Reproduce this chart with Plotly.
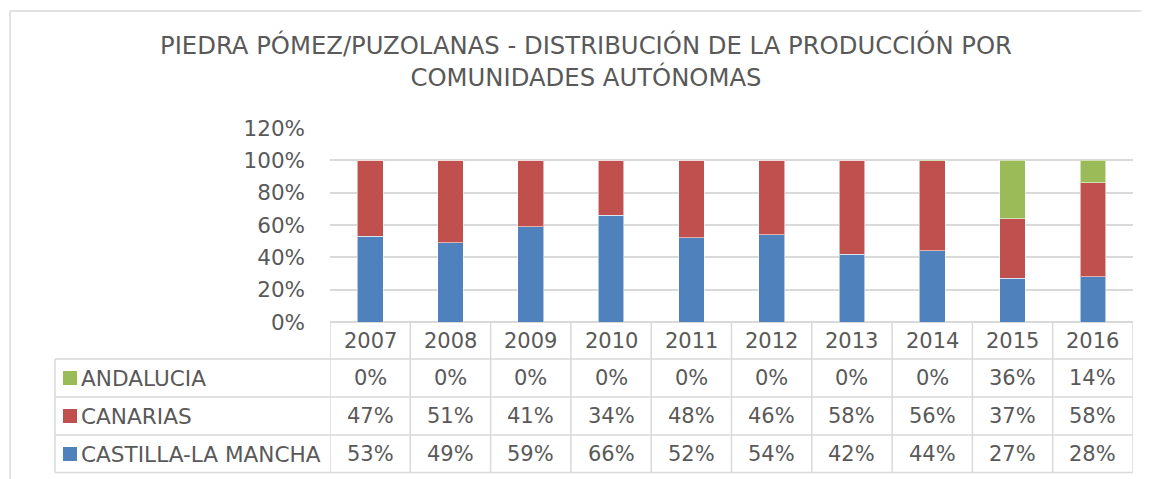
import plotly.graph_objects as go

years = ["2007", "2008", "2009", "2010", "2011", "2012", "2013", "2014", "2015", "2016"]
andalucia = [0.0, 0.0, 0.0, 0.0, 0.0, 0.0, 0.0, 0.003, 0.36, 0.14]
canarias = [0.47, 0.51, 0.41, 0.34, 0.48, 0.46, 0.58, 0.557, 0.37, 0.58]
castilla = [0.53, 0.49, 0.59, 0.66, 0.52, 0.54, 0.42, 0.44, 0.27, 0.28]
series_names = ["ANDALUCIA", "CANARIAS", "CASTILLA-LA MANCHA"]
colors = {"ANDALUCIA": "#9BBB59", "CANARIAS": "#C0504D", "CASTILLA-LA MANCHA": "#4F81BD"}
y_ticks = [0, 0.2, 0.4, 0.6, 0.8, 1.0, 1.2]
title_text = "PIEDRA PÓMEZ/PUZOLANAS - DISTRIBUCIÓN DE LA PRODUCCIÓN POR<br>COMUNIDADES AUTÓNOMAS"

OFF = 8  # page body margin
W, H = 1149 - OFF, 479 - OFF
ML, MR, MT, MB = 322, 16, 120, 157
PW = W - ML - MR
PH = H - MT - MB
FONT = "DejaVu Sans"
TXT = "#595959"
GRID = "#D9D9D9"


def px_x(px):
    return (px - OFF - ML) / PW


def px_y(py):
    return (H - MB - (py - OFF)) / PH


values = {"CASTILLA-LA MANCHA": castilla, "CANARIAS": canarias, "ANDALUCIA": andalucia}

fig = go.Figure()
for name in ["CASTILLA-LA MANCHA", "CANARIAS", "ANDALUCIA"]:
    fig.add_trace(go.Bar(
        x=years, y=values[name], name=name,
        marker=dict(color=colors[name], line=dict(color="rgba(255,255,255,0.55)", width=1)),
        showlegend=False,
    ))

shapes = []
annotations = []

# chart outer border (only top and left edges are visible in the frame)
shapes.append(dict(type="line", xref="paper", yref="paper",
                   x0=px_x(10), x1=px_x(1300), y0=px_y(11), y1=px_y(11),
                   line=dict(color=GRID, width=1.5), layer="below"))
shapes.append(dict(type="line", xref="paper", yref="paper",
                   x0=px_x(10), x1=px_x(10), y0=px_y(11), y1=px_y(600),
                   line=dict(color=GRID, width=1.5), layer="below"))

# table rows (page pixel y of lines)
row_lines = [359, 397, 435, 472.5]
row_centers = [378, 416, 454]
header_center = 340.5

for yy in row_lines:
    shapes.append(dict(type="line", xref="paper", yref="paper",
                       x0=px_x(55), x1=1.0, y0=px_y(yy), y1=px_y(yy),
                       line=dict(color=GRID, width=1.5)))
for i in range(len(years) + 1):
    shapes.append(dict(type="line", xref="x", yref="paper",
                       x0=i - 0.5, x1=i - 0.5, y0=0, y1=px_y(472.5),
                       line=dict(color=GRID, width=1.5)))
shapes.append(dict(type="line", xref="paper", yref="paper",
                   x0=px_x(55), x1=px_x(55), y0=px_y(359), y1=px_y(472.5),
                   line=dict(color=GRID, width=1.5)))

# header years
for i, yr in enumerate(years):
    annotations.append(dict(x=i, y=px_y(header_center), xref="x", yref="paper",
                            text=yr, showarrow=False, xanchor="center", yanchor="middle",
                            font=dict(family=FONT, size=21, color=TXT)))

for r, name in enumerate(series_names):
    cy = row_centers[r]
    shapes.append(dict(type="rect", xref="paper", yref="paper",
                       x0=px_x(63), x1=px_x(77), y0=px_y(cy - 7), y1=px_y(cy + 7),
                       fillcolor=colors[name], line=dict(width=0)))
    annotations.append(dict(x=px_x(79.5), y=px_y(cy), xref="paper", yref="paper",
                            text=name, showarrow=False, xanchor="left", yanchor="middle",
                            font=dict(family=FONT, size=21.6, color=TXT)))
    for i, v in enumerate(values[name]):
        annotations.append(dict(x=i, y=px_y(cy), xref="x", yref="paper",
                                text=f"{round(v * 100):d}%", showarrow=False,
                                xanchor="center", yanchor="middle",
                                font=dict(family=FONT, size=21, color=TXT)))

fig.update_layout(
    width=W, height=H,
    margin=dict(l=ML, r=MR, t=MT, b=MB, pad=0),
    paper_bgcolor="white", plot_bgcolor="white",
    barmode="stack", bargap=0.68,
    title=dict(text=title_text, x=(586 - OFF) / W, xref="container", xanchor="center",
               y=1 - 46 / H, yref="container", yanchor="top",
               font=dict(family=FONT, size=24.3, color=TXT)),
    xaxis=dict(type="category", showticklabels=False, showgrid=False, zeroline=False,
               showline=False, ticks="", range=[-0.5, len(years) - 0.5]),
    yaxis=dict(range=[0, 1.2], tickvals=y_ticks, tickformat=".0%",
               showgrid=True, gridcolor=GRID, gridwidth=1.5, zeroline=True,
               zerolinecolor=GRID, zerolinewidth=1.5, showline=False, ticks="",
               ticklabelstandoff=24,
               tickfont=dict(family=FONT, size=21.5, color=TXT)),
    shapes=shapes, annotations=annotations,
    font=dict(family=FONT, color=TXT),
)

fig.write_html("out.html")
